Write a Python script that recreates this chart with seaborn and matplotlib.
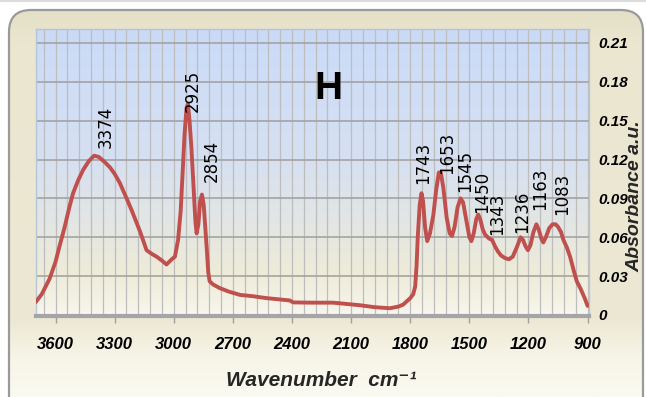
import numpy as np
import pandas as pd
import matplotlib
matplotlib.use("Agg")
import matplotlib.pyplot as plt
import seaborn as sns
from matplotlib.patches import FancyBboxPatch
from matplotlib.colors import LinearSegmentedColormap
from matplotlib.ticker import MultipleLocator, FixedLocator
import logging
logging.getLogger("matplotlib.font_manager").setLevel(logging.ERROR)

# ---------------- data ----------------
wavenumber = [3700, 3670, 3630, 3600, 3578, 3555, 3530, 3511, 3485, 3460, 3430, 3404, 3380, 3350, 3324,
              3300, 3274, 3245, 3214, 3170, 3138, 3110, 3087, 3060, 3037, 3010, 2994, 2978, 2965,
              2955, 2945, 2935, 2928, 2920, 2910, 2900, 2890, 2884, 2875, 2866, 2857,
              2848, 2840, 2832, 2825, 2818, 2800, 2766, 2720, 2664, 2600, 2529, 2450,
              2411, 2394, 2300, 2191, 2120, 2055, 1980, 1903, 1860, 1836, 1800, 1785,
              1775, 1768, 1762, 1752, 1743, 1735, 1725, 1714, 1700, 1683, 1668, 1655,
              1645, 1632, 1615, 1600, 1588, 1575, 1560, 1545, 1532, 1518, 1500, 1490,
              1478, 1465, 1455, 1445, 1432, 1420, 1400, 1385, 1370, 1355, 1340, 1320,
              1300, 1280, 1260, 1240, 1228, 1215, 1203, 1190, 1175, 1160, 1148, 1135,
              1125, 1112, 1095, 1078, 1062, 1050, 1035, 1023, 1005, 989, 970, 955,
              935, 915, 900]
absorbance = [0.010, 0.016, 0.028, 0.041, 0.054, 0.067, 0.083, 0.094, 0.104, 0.112, 0.119, 0.123, 0.122, 0.118, 0.114,
              0.109, 0.102, 0.092, 0.081, 0.064, 0.050, 0.047, 0.045, 0.042, 0.039, 0.043, 0.045, 0.058, 0.080,
              0.110, 0.140, 0.160, 0.163, 0.150, 0.128, 0.100, 0.072, 0.063, 0.070, 0.088, 0.093,
              0.085, 0.068, 0.050, 0.033, 0.026, 0.0235, 0.0207, 0.018, 0.0155, 0.0145, 0.013, 0.0118,
              0.0112, 0.0097, 0.0095, 0.0095, 0.0085, 0.0075, 0.006, 0.0052, 0.0065, 0.008, 0.013, 0.016,
              0.022, 0.038, 0.060, 0.085, 0.094, 0.088, 0.068, 0.057, 0.063, 0.077, 0.097, 0.110,
              0.110, 0.098, 0.075, 0.063, 0.061, 0.068, 0.083, 0.090, 0.087, 0.075, 0.060, 0.057,
              0.063, 0.074, 0.0775, 0.074, 0.066, 0.062, 0.059, 0.058, 0.053, 0.049, 0.046, 0.044,
              0.043, 0.045, 0.052, 0.060, 0.058, 0.053, 0.050, 0.054, 0.064, 0.070, 0.066, 0.059,
              0.056, 0.060, 0.067, 0.070, 0.070, 0.068, 0.064, 0.058, 0.052, 0.045, 0.034, 0.026,
              0.020, 0.013, 0.007]

peak_labels = ["3374", "2925", "2854", "1743", "1653", "1545", "1450", "1343", "1236", "1163", "1083"]
label_wn = [3345, 2903, 2807, 1736, 1614, 1522, 1436, 1360, 1233, 1142, 1030]
label_abs = [0.129, 0.157, 0.103, 0.1008, 0.109, 0.095, 0.079, 0.062, 0.0636, 0.081, 0.0775]

x_ticks = [3600, 3300, 3000, 2700, 2400, 2100, 1800, 1500, 1200, 900]
y_ticks = [0, 0.03, 0.06, 0.09, 0.12, 0.15, 0.18, 0.21]
y_tick_labels = ["0", "0.03", "0.06", "0.09", "0.12", "0.15", "0.18", "0.21"]

panel_title = "H"
x_title = "Wavenumber  cm\u207b\u00b9"
y_title = "Absorbance a.u."

df = pd.DataFrame({"wavenumber": wavenumber, "absorbance": absorbance})

# ---------------- style ----------------
sns.set_theme(style="white")
plt.rcParams["font.family"] = ["DejaVu Sans"]
NARROW = ["Liberation Sans Narrow", "DejaVu Sans Condensed", "Liberation Sans", "DejaVu Sans"]

W, H = 646, 397
fig = plt.figure(figsize=(W / 100, H / 100), dpi=100)
fig.patch.set_facecolor("white")

# ---------------- outer beige frame ----------------
bg = fig.add_axes([0, 0, 1, 1], zorder=-10)
bg.axis("off")
frame = FancyBboxPatch((9, 10), 634, 420, boxstyle="round,pad=0,rounding_size=22",
                       fc="none", ec="#9a9a9a", lw=1.6, zorder=3)
bg.add_patch(frame)
grad = np.linspace(0, 1, 256)[:, None]
cmap_frame = LinearSegmentedColormap.from_list(
    "frame", [(0, "#e4dfc6"), (0.08, "#ebe6d0"), (0.8, "#ece8d3"),
              (0.9, "#f7f5e8"), (1, "#fbfaf1")])
im = bg.imshow(grad, cmap=cmap_frame, extent=[9, 643, 397, 10], aspect="auto", zorder=1)
im.set_clip_path(frame)
bg.plot([0, W], [1, 1], color="#dcdcdc", lw=1.5, zorder=2)
bg.set_xlim(0, W)
bg.set_ylim(H, 0)

# ---------------- main axes ----------------
L, R, T, B = 36, 589, 29, 316
ax = fig.add_axes([L / W, 1 - B / H, (R - L) / W, (B - T) / H])
cmap_plot = LinearSegmentedColormap.from_list(
    "plot", [(0, "#c9d9f6"), (0.1, "#cddcf7"), (0.45, "#d6e0f2"), (0.68, "#e3e6e3"),
             (0.85, "#eeebd8"), (0.96, "#f5f3e6"), (1, "#f8f7f0")])
ax.imshow(grad, cmap=cmap_plot, extent=[0, 1, 0, 1], transform=ax.transAxes,
          aspect="auto", zorder=0)

sns.lineplot(data=df, x="wavenumber", y="absorbance", ax=ax, color="#c0504d",
             linewidth=2.8, sort=False, zorder=3)

ax.set_xlim(3699, 893)
ax.set_ylim(-0.0008, 0.2208)

ax.xaxis.set_major_locator(FixedLocator(x_ticks))
ax.xaxis.set_minor_locator(MultipleLocator(60))
ax.set_xticklabels([str(v) for v in x_ticks])
ax.yaxis.tick_right()
ax.set_yticks(y_ticks)
ax.set_yticklabels(y_tick_labels)

ax.set_axisbelow(True)
ax.grid(which="both", axis="x", color="#bdbdbd", lw=0.9)
ax.grid(which="major", axis="y", color="#a3a3a3", lw=1.2)

ax.tick_params(axis="x", which="major", bottom=True, direction="out", length=5,
               width=1, color="#a0a0a0", pad=10)
ax.tick_params(axis="x", which="minor", length=0)
ax.tick_params(axis="y", which="both", length=0, pad=7, right=True, left=False)

for lab in ax.get_xticklabels():
    lab.set_fontfamily(NARROW)
    lab.set_fontstyle("italic")
    lab.set_fontweight("bold")
    lab.set_fontsize(12)
    lab.set_color("black")
for lab in ax.get_yticklabels():
    lab.set_fontfamily(NARROW)
    lab.set_fontstyle("italic")
    lab.set_fontweight("bold")
    lab.set_fontsize(11)
    lab.set_color("black")

for side in ["top", "right", "left"]:
    ax.spines[side].set_color("#b8c4d8")
    ax.spines[side].set_linewidth(1.0)
ax.spines["bottom"].set_color("#a5a5a9")
ax.spines["bottom"].set_linewidth(3.0)

ax.set_xlabel("")
ax.set_ylabel("")

# peak labels
for txt, xw, ya in zip(peak_labels, label_wn, label_abs):
    ax.text(xw, ya, txt, rotation=90, ha="center", va="bottom", fontsize=12,
            family=["DejaVu Sans"], color="black", zorder=4)

# panel letter
ax.text(0.528, 0.79, panel_title, transform=ax.transAxes, ha="center", va="center",
        fontsize=28, fontweight="bold", family=NARROW, color="black")

# axis titles
fig.text(321 / W, 1 - 380 / H, x_title, ha="center", va="center", fontsize=15,
         fontstyle="italic", fontweight="bold", family=NARROW)
fig.text(634.5 / W, 1 - 272 / H, y_title, rotation=90, ha="center", va="bottom",
         fontsize=14, fontstyle="italic", fontweight="bold", family=NARROW)

fig.savefig("out.png", dpi=100, facecolor=fig.get_facecolor())
